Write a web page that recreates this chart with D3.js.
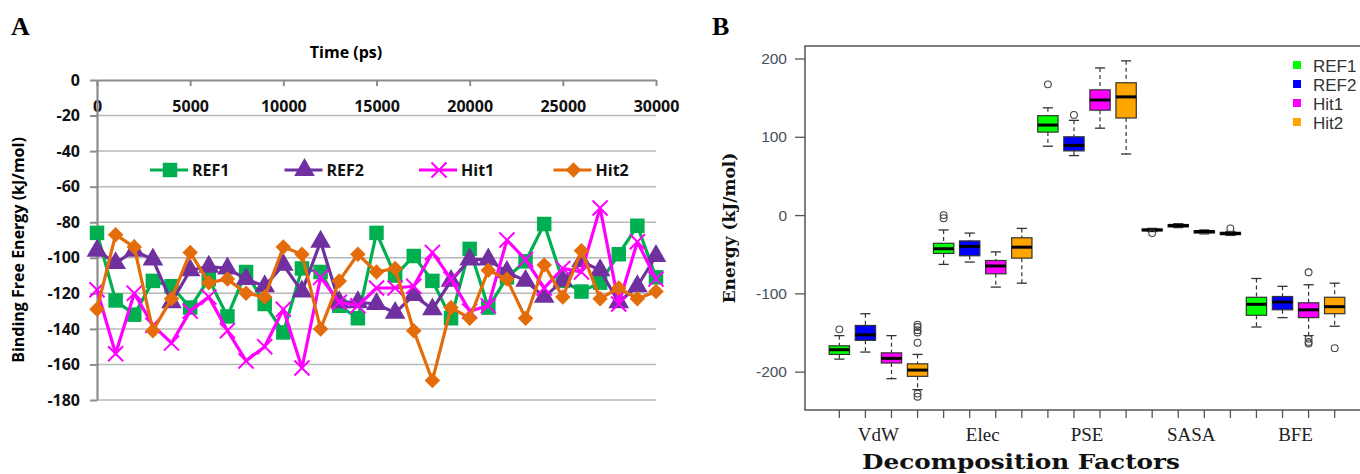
<!DOCTYPE html>
<html>
<head>
<meta charset="utf-8">
<script src="https://cdn.jsdelivr.net/npm/d3@7"></script>
<style>
  body { margin: 0; background: #fff; }
  svg { display: block; }
</style>
</head>
<body>
<svg id="chart" width="1360" height="474"></svg>
<script>
// ---- panel A data: binding free energy over time ----
const times = [0, 1000, 2000, 3000, 4000, 5000, 6000, 7000, 8000, 9000, 10000,
    11000, 12000, 13000, 14000, 15000, 16000, 17000, 18000, 19000, 20000,
    21000, 22000, 23000, 24000, 25000, 26000, 27000, 28000, 29000, 30000];
const ref1 = [-86, -124, -132, -113, -116, -128, -112, -133, -108, -126, -142, -106, -108, -127, -134, -86,
    -110, -99, -113, -134, -95, -128, -111, -102, -81, -113, -119, -114, -98, -82, -111];
const ref2 = [-96, -103, -96, -101, -125, -107, -105, -106, -112, -116, -104, -119, -91, -125, -125, -126,
    -131, -121, -129, -113, -101, -101, -108, -113, -122, -113, -102, -107, -125, -116, -99];
const hit1 = [-118, -154, -120, -138, -148, -130, -122, -141, -158, -150, -129, -162, -111, -125, -127, -117,
    -117, -116, -97, -112, -130, -127, -90, -101, -117, -106, -108, -72, -126, -91, -112];
const hit2 = [-129, -87, -94, -141, -123, -97, -114, -112, -120, -122, -94, -98, -140, -113, -98, -108,
    -106, -141, -169, -128, -134, -107, -112, -134, -104, -122, -96, -123, -117, -123, -119];
const timeTicks = [0, 5000, 10000, 15000, 20000, 25000, 30000];
const energyTicks = [0, -20, -40, -60, -80, -100, -120, -140, -160, -180];

// ---- panel B data: decomposition boxplots [min, q1, median, q3, max] ----
const factors = ["VdW", "Elec", "PSE", "SASA", "BFE"];
const groups = ["REF1", "REF2", "Hit1", "Hit2"];
const ref1Box = [[-184, -178, -172, -167, -154], [-63, -49, -43, -36, -19], [88, 106, 115, 127, 137], [-21, -20, -19, -18, -17], [-143, -128, -114, -105, -81]];
const ref2Box = [[-175, -160, -153, -141, -126], [-60, -52, -40, -33, -23], [76, 82, 89, 100, 121], [-16, -15, -13.5, -12, -11], [-131, -121, -111, -104, -91]];
const hit1Box = [[-209, -189, -183, -176, -154], [-92, -75, -65, -58, -47], [111, 134, 147, 160, 188], [-24, -23, -21, -20, -19], [-154, -131, -121, -112, -89]];
const hit2Box = [[-223, -206, -198, -190, -178], [-87, -55, -41, -29, -17], [78, 124, 151, 169, 197], [-26, -25, -23.5, -22, -21], [-142, -126, -117, -105, -87]];
const ref1Out = [[-146], [0, -4], [167], [-23], []];
const ref2Out = [[], [], [128], [], []];
const hit1Out = [[], [], [], [], [-73, -158, -162, -164]];
const hit2Out = [[-140, -143, -147, -150, -163, -228, -232], [], [], [-17], [-170]];
const bfeTicks = [-200, -100, 0, 100, 200];

const svg = d3.select("#chart");

// ================= Panel A =================
const xA = d3.scaleLinear().domain([0, 30000]).range([97, 656]);
const yA = d3.scaleLinear().domain([-180, 0]).range([400, 80]);
const fontA = "'Open Sans', sans-serif";

svg.append("text").attr("x", 11).attr("y", 35)
    .style("font", "bold 26px 'Liberation Serif', serif").text("A");

// gridlines
svg.append("g").selectAll("line")
    .data(energyTicks.filter(d => d !== 0))
    .join("line")
    .attr("x1", xA(0)).attr("x2", xA(30000))
    .attr("y1", d => yA(d)).attr("y2", d => yA(d))
    .attr("stroke", "#b8b8b8").attr("stroke-width", 1.5);

const axA = svg.append("g").attr("transform", `translate(0,${yA(0)})`)
    .call(d3.axisBottom(xA).tickValues(timeTicks).tickFormat(d => String(d))
        .tickSize(6).tickSizeOuter(0).tickPadding(15));
const ayA = svg.append("g").attr("transform", `translate(${xA(0)},0)`)
    .call(d3.axisLeft(yA).tickValues(energyTicks).tickFormat(d => String(d))
        .tickSize(7).tickSizeOuter(0).tickPadding(10));
[axA, ayA].forEach(g => {
    g.select(".domain").attr("stroke", "#8c8c8c").attr("stroke-width", 2.2);
    g.selectAll(".tick line").attr("stroke", "#8c8c8c").attr("stroke-width", 2);
    g.selectAll("text").style("font", `bold 16px ${fontA}`).attr("fill", "#111");
});

svg.append("text").attr("x", 346).attr("y", 58).attr("text-anchor", "middle")
    .style("font", `bold 16px ${fontA}`).text("Time (ps)");
svg.append("text").attr("transform", "translate(24,250) rotate(-90)").attr("text-anchor", "middle")
    .style("font", `bold 16px ${fontA}`).text("Binding Free Energy (kJ/mol)");

const seriesA = [
    { name: "REF1", values: ref1, color: "#00b050", marker: "square" },
    { name: "REF2", values: ref2, color: "#7030a0", marker: "triangle" },
    { name: "Hit1", values: hit1, color: "#ff00ff", marker: "x" },
    { name: "Hit2", values: hit2, color: "#e46c0a", marker: "diamond" }
];

function drawMarker(sel, s) {
    if (s.marker === "square") {
        sel.append("path").attr("d", d3.symbol(d3.symbolSquare, 210)()).attr("fill", s.color);
    } else if (s.marker === "triangle") {
        sel.append("path").attr("d", d3.symbol(d3.symbolTriangle, 185)()).attr("fill", s.color);
    } else if (s.marker === "x") {
        sel.append("path").attr("d", d3.symbol(d3.symbolTimes, 150)())
            .attr("fill", "none").attr("stroke", s.color).attr("stroke-width", 2);
    } else {
        sel.append("path").attr("d", d3.symbol(d3.symbolSquare, 120)()).attr("transform", "rotate(45)")
            .attr("fill", s.color);
    }
}

const line = d3.line().x((d, i) => xA(times[i])).y(d => yA(d));

seriesA.forEach(s => {
    const g = svg.append("g");
    g.append("path").datum(s.values).attr("d", line)
        .attr("fill", "none").attr("stroke", s.color).attr("stroke-width", 3.2)
        .attr("stroke-linejoin", "round");
    g.selectAll(".pt").data(s.values).join("g")
        .attr("transform", (d, i) => `translate(${xA(times[i])},${yA(d)})`)
        .each(function () { drawMarker(d3.select(this), s); });
});

// legend A
const legA = svg.append("g").selectAll("g").data(seriesA).join("g")
    .attr("transform", (d, i) => `translate(${170 + i * 134.5},170)`);
legA.append("line").attr("x1", -20).attr("x2", 18)
    .attr("stroke", d => d.color).attr("stroke-width", 3.2);
legA.each(function (d) { drawMarker(d3.select(this), d); });
legA.append("text").attr("x", 22).attr("y", 6)
    .style("font", `bold 16px ${fontA}`).attr("fill", "#111").text(d => d.name);

// ================= Panel B =================
const colorsB = { REF1: "#00ff00", REF2: "#0000ff", Hit1: "#ff00ff", Hit2: "#ffa500" };
const boxes = { REF1: ref1Box, REF2: ref2Box, Hit1: hit1Box, Hit2: hit2Box };
const outs = { REF1: ref1Out, REF2: ref2Out, Hit1: hit1Out, Hit2: hit2Out };

const keys = [];
factors.forEach(f => groups.forEach(g => keys.push(f + "|" + g)));

const xB = d3.scaleBand().domain(keys).range([826.3, 1347.7]).paddingInner(0.22).paddingOuter(0.11);
const yB = d3.scaleLinear().domain([-249, 216]).range([410, 46]);

svg.append("text").attr("x", 712).attr("y", 35)
    .style("font", "bold 26px 'Liberation Serif', serif").text("B");

svg.append("rect").attr("x", 805).attr("y", 46).attr("width", 570).attr("height", 364)
    .attr("fill", "none").attr("stroke", "#555").attr("stroke-width", 1.5);

const ayB = svg.append("g").attr("transform", "translate(805,0)")
    .call(d3.axisLeft(yB).tickValues(bfeTicks).tickFormat(d => String(d))
        .tickSize(10).tickSizeOuter(0).tickPadding(8));
ayB.select(".domain").remove();
ayB.selectAll(".tick line").attr("stroke", "#555").attr("stroke-width", 1.3);
ayB.selectAll("text").style("font", "15.5px 'Liberation Sans', Arial, sans-serif").attr("fill", "#46505e");

const axB = svg.append("g").attr("transform", "translate(0,410)")
    .call(d3.axisBottom(xB).tickSize(8).tickSizeOuter(0).tickFormat(""));
axB.select(".domain").remove();
axB.selectAll(".tick line").attr("stroke", "#555").attr("stroke-width", 1.3);

// factor labels
svg.append("g").selectAll("text").data(factors).join("text")
    .attr("x", f => (xB(f + "|REF2") + xB(f + "|Hit1")) / 2 + xB.bandwidth() / 2)
    .attr("y", 441).attr("text-anchor", "middle")
    .style("font", "19px 'Liberation Serif', serif").attr("fill", "#222").text(f => f);

svg.append("text").attr("x", 1021).attr("y", 469).attr("text-anchor", "middle")
    .attr("textLength", 318).attr("lengthAdjust", "spacingAndGlyphs")
    .style("font", "bold 20px 'DejaVu Serif', serif").attr("fill", "#111").text("Decomposition Factors");
svg.append("text").attr("transform", "translate(735,228) rotate(-90)").attr("text-anchor", "middle")
    .style("font", "bold 17px 'DejaVu Serif', serif").attr("fill", "#111").text("Energy (kJ/mol)");

// boxes
const bw = xB.bandwidth();
factors.forEach((f, fi) => {
    groups.forEach(gName => {
        const [lo, q1, med, q3, hi] = boxes[gName][fi];
        const x0 = xB(f + "|" + gName);
        const cx = x0 + bw / 2;
        const g = svg.append("g");
        g.append("line").attr("x1", cx).attr("x2", cx).attr("y1", yB(hi)).attr("y2", yB(q3))
            .attr("stroke", "#333").attr("stroke-width", 1.2).attr("stroke-dasharray", "4,3");
        g.append("line").attr("x1", cx).attr("x2", cx).attr("y1", yB(q1)).attr("y2", yB(lo))
            .attr("stroke", "#333").attr("stroke-width", 1.2).attr("stroke-dasharray", "4,3");
        [lo, hi].forEach(v => g.append("line").attr("x1", cx - bw / 4).attr("x2", cx + bw / 4)
            .attr("y1", yB(v)).attr("y2", yB(v)).attr("stroke", "#333").attr("stroke-width", 1.3));
        g.append("rect").attr("x", x0).attr("width", bw)
            .attr("y", yB(q3)).attr("height", yB(q1) - yB(q3))
            .attr("fill", colorsB[gName]).attr("stroke", "#333").attr("stroke-width", 1.2);
        g.append("line").attr("x1", x0).attr("x2", x0 + bw).attr("y1", yB(med)).attr("y2", yB(med))
            .attr("stroke", "#000").attr("stroke-width", 3);
        g.selectAll("circle").data(outs[gName][fi]).join("circle")
            .attr("cx", cx).attr("cy", d => yB(d)).attr("r", 3.4)
            .attr("fill", "none").attr("stroke", "#444").attr("stroke-width", 1.1);
    });
});

// legend B
const legB = svg.append("g").selectAll("g").data(groups).join("g")
    .attr("transform", (d, i) => `translate(1297,${65 + i * 19})`);
legB.append("rect").attr("x", -4).attr("y", -4).attr("width", 8).attr("height", 8)
    .attr("fill", d => colorsB[d]);
legB.append("text").attr("x", 16).attr("y", 7)
    .style("font", "17px 'Liberation Sans', Arial, sans-serif").attr("fill", "#333").text(d => d);
</script>
</body>
</html>
